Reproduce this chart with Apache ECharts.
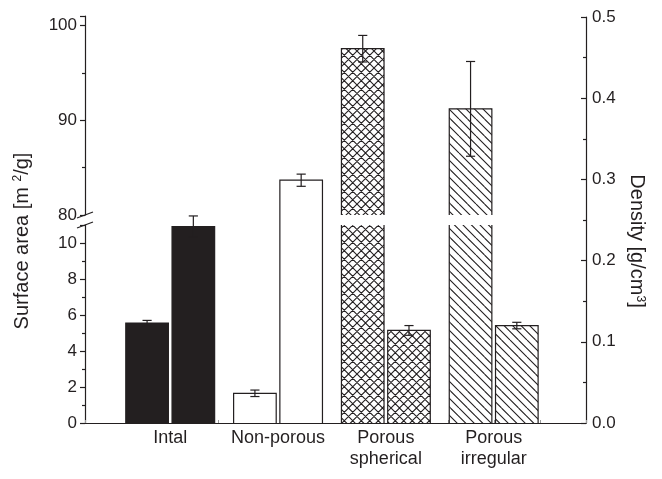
<!DOCTYPE html>
<html>
<head>
<meta charset="utf-8">
<script src="https://cdn.jsdelivr.net/npm/echarts@6/dist/echarts.min.js"></script>
<style>
html,body{margin:0;padding:0;background:#fff;}
#chart{width:662px;height:479px;}
</style>
</head>
<body>
<div id="chart"></div>
<script>
// ---------------- data ----------------
const categories = ['Intal', 'Non-porous', 'Porous\nspherical', 'Porous\nirregular'];
const surfaceArea = [5.55, 1.65, 97.55, 91.2];      // m^2/g (left axis)
const surfaceErr  = [0.15, 0.18, 1.4, 5.0];
const density     = [0.242, 0.299, 0.114, 0.120];   // g/cm^3 (right axis)
const densityErr  = [0.013, 0.0075, 0.006, 0.004];
const lowerTickLabels   = [0, 2, 4, 6, 8, 10];
const upperTickLabels   = [80, 90, 100];
const densityTickLabels = [0, 0.1, 0.2, 0.3, 0.4, 0.5];

// ---------------- styles ----------------
const DARK = '#231f20';
const LW = 1.2;
const FONT = '"Liberation Sans", Arial, Helvetica, sans-serif';
const groupFillKind = ['solid', 'empty', 'cross', 'diag'];
const BAR_FRAC = 0.395, GAP_FRAC = 0.034, CAP_FRAC = 0.085;

// layout (px)
const AXIS_L = 85, AXIS_R = 586, AXIS_B = 423, AXIS_T = 17;
const BAND_L = 116.3, BAND_R = 547.6;
const UPPER_TOP = 16, UPPER_BOTTOM = 215, LOWER_TOP = 225;
const LOWER_MAX = 11, UPPER_MIN = 80, UPPER_MAX = 101;

function makePattern(kind) {
  const s = 8.5;
  const c = document.createElement('canvas');
  c.width = 17; c.height = 17;
  const ctx = c.getContext('2d');
  ctx.fillStyle = '#fff';
  ctx.fillRect(0, 0, 17, 17);
  ctx.strokeStyle = DARK;
  ctx.lineWidth = 1.1;
  ctx.beginPath();
  for (let k = -2; k <= 2; k++) {
    ctx.moveTo(k * s, 0); ctx.lineTo(k * s + 17, 17);
    if (kind === 'cross') { ctx.moveTo(k * s + 17, 0); ctx.lineTo(k * s, 17); }
  }
  ctx.stroke();
  return c;
}
const patterns = { cross: makePattern('cross'), diag: makePattern('diag') };
function fillFor(i) {
  const k = groupFillKind[i];
  if (k === 'solid') return DARK;
  if (k === 'empty') return '#fff';
  return { image: patterns[k], repeat: 'repeat' };
}

function errorBar(api, i, cx, v, e, lo, hi, half) {
  const a = Math.max(v - e, lo), b = Math.min(v + e, hi);
  const ya = api.coord([i, a])[1], yb = api.coord([i, b])[1];
  const st = { stroke: DARK, lineWidth: LW };
  const out = [{ type: 'line', shape: { x1: cx, y1: ya, x2: cx, y2: yb }, style: st }];
  if (v + e <= hi) out.push({ type: 'line', shape: { x1: cx - half, y1: yb, x2: cx + half, y2: yb }, style: st });
  if (v - e >= lo) out.push({ type: 'line', shape: { x1: cx - half, y1: ya, x2: cx + half, y2: ya }, style: st });
  return out;
}

// side: -1 = left bar of the pair, +1 = right bar
function barRenderer(side, segMin, segMax) {
  return function (params, api) {
    const i = api.value(0), v = api.value(1), e = api.value(2);
    if (v <= segMin) return;
    const band = api.size([1, 0])[0];
    const w = band * BAR_FRAC, g = band * GAP_FRAC, half = band * CAP_FRAC / 2;
    const base = api.coord([i, segMin]);
    const cx = base[0] + side * (g / 2 + w / 2);
    const x0 = cx - w / 2, x1 = cx + w / 2;
    const yBase = base[1];
    const clippedTop = v > segMax;
    const yTop = api.coord([i, Math.min(v, segMax)])[1];
    const children = [{
      type: 'rect',
      shape: { x: x0, y: yTop, width: w, height: yBase - yTop },
      style: { fill: fillFor(i) }
    }];
    if (!clippedTop) {
      children.push({ type: 'polyline', shape: { points: [[x0, yBase], [x0, yTop], [x1, yTop], [x1, yBase]] },
        style: { stroke: DARK, lineWidth: LW, fill: null } });
      children.push.apply(children, errorBar(api, i, cx, v, e, segMin, segMax, half));
    } else {
      children.push({ type: 'line', shape: { x1: x0, y1: yBase, x2: x0, y2: yTop }, style: { stroke: DARK, lineWidth: LW } });
      children.push({ type: 'line', shape: { x1: x1, y1: yBase, x2: x1, y2: yTop }, style: { stroke: DARK, lineWidth: LW } });
    }
    return { type: 'group', children: children };
  };
}

const surfaceData = categories.map((c, i) => [i, surfaceArea[i], surfaceErr[i]]);
const densityData = categories.map((c, i) => [i, density[i], densityErr[i]]);

const bandGrid = { left: BAND_L, right: 662 - BAND_R };
const tickStyle = { color: DARK, width: LW };
const labelBase = { color: DARK, fontSize: 17, fontFamily: FONT };
const supStyle = { fontSize: 12, verticalAlign: 'top', color: DARK, fontFamily: FONT, padding: [0, 0, 8, 0] };

const option = {
  animation: false,
  backgroundColor: '#fff',
  textStyle: { fontFamily: FONT },
  grid: [
    { left: AXIS_L, right: 662 - AXIS_R, top: AXIS_T, bottom: 479 - AXIS_B },
    Object.assign({ top: LOWER_TOP, bottom: 479 - AXIS_B }, bandGrid),
    Object.assign({ top: UPPER_TOP, height: UPPER_BOTTOM - UPPER_TOP }, bandGrid),
    Object.assign({ top: AXIS_T, bottom: 479 - AXIS_B }, bandGrid)
  ],
  xAxis: [
    { gridIndex: 0, type: 'value', inverse: true, min: 0, max: 10.9, interval: 1,
      axisLine: { show: true, lineStyle: tickStyle },
      axisTick: { show: true, inside: true, length: 3, lineStyle: { color: '#9a9a9a', width: 1 } },
      axisLabel: { show: false }, splitLine: { show: false } },
    { gridIndex: 1, type: 'category', data: categories, show: false },
    { gridIndex: 2, type: 'category', data: categories, show: false },
    { gridIndex: 3, type: 'category', data: categories,
      axisLine: { show: false }, axisTick: { show: false },
      axisLabel: { margin: 5, lineHeight: 21, interval: 0, color: DARK, fontSize: 18, fontFamily: FONT } }
  ],
  yAxis: [
    { gridIndex: 0, type: 'value', show: false },
    { gridIndex: 1, type: 'value', position: 'left', offset: BAND_L - AXIS_L,
      min: 0, max: LOWER_MAX, interval: 2,
      axisLine: { show: true, lineStyle: tickStyle },
      axisTick: { show: true, length: 5, lineStyle: tickStyle },
      minorTick: { show: true, splitNumber: 2, length: 3, lineStyle: tickStyle },
      axisLabel: Object.assign({ customValues: lowerTickLabels, margin: 8 }, labelBase),
      splitLine: { show: false }, minorSplitLine: { show: false } },
    { gridIndex: 2, type: 'value', position: 'left', offset: BAND_L - AXIS_L,
      min: UPPER_MIN, max: UPPER_MAX, interval: 10,
      axisLine: { show: true, lineStyle: tickStyle },
      axisTick: { show: true, length: 5, lineStyle: tickStyle },
      minorTick: { show: true, splitNumber: 2, length: 3, lineStyle: tickStyle },
      axisLabel: Object.assign({ customValues: upperTickLabels, margin: 8 }, labelBase),
      splitLine: { show: false }, minorSplitLine: { show: false } },
    { gridIndex: 3, type: 'value', position: 'right', offset: AXIS_R - BAND_R,
      min: 0, max: 0.5, interval: 0.1,
      axisLine: { show: true, lineStyle: tickStyle },
      axisTick: { show: true, inside: true, length: 5, lineStyle: tickStyle },
      minorTick: { show: true, splitNumber: 2, length: 3, lineStyle: tickStyle },
      axisLabel: Object.assign({ customValues: densityTickLabels, margin: 6,
        formatter: v => Number(v).toFixed(1) }, labelBase),
      splitLine: { show: false }, minorSplitLine: { show: false },
      name: 'Density [g/cm{sup|3}]', nameLocation: 'middle', nameRotate: -90, nameGap: 36,
      nameTextStyle: { color: DARK, fontSize: 20, fontFamily: FONT, padding: [0, 0, 0, 42],
        rich: { sup: supStyle } } },
    { gridIndex: 3, type: 'value', position: 'left', offset: BAND_L - AXIS_L, min: 0, max: 1,
      axisLine: { show: false }, axisTick: { show: false }, axisLabel: { show: false },
      splitLine: { show: false },
      name: 'Surface area [m {sup|2}/g]', nameLocation: 'middle', nameRotate: 90, nameGap: 53,
      nameTextStyle: { color: DARK, fontSize: 20, fontFamily: FONT, padding: [0, 42, 0, 0],
        rich: { sup: supStyle } } }
  ],
  series: [
    { type: 'custom', name: 'Surface area (lower)', xAxisIndex: 1, yAxisIndex: 1,
      encode: { x: 0, y: 1 }, data: surfaceData, renderItem: barRenderer(-1, 0, LOWER_MAX) },
    { type: 'custom', name: 'Surface area (upper)', xAxisIndex: 2, yAxisIndex: 2,
      encode: { x: 0, y: 1 }, data: surfaceData, renderItem: barRenderer(-1, UPPER_MIN, UPPER_MAX) },
    { type: 'custom', name: 'Density', xAxisIndex: 3, yAxisIndex: 3,
      encode: { x: 0, y: 1 }, data: densityData, renderItem: barRenderer(1, 0, 0.5) }
  ],
  graphic: [
    { type: 'line', shape: { x1: AXIS_L - 8, y1: UPPER_BOTTOM + 3, x2: AXIS_L + 8, y2: UPPER_BOTTOM - 3 },
      style: { stroke: DARK, lineWidth: LW }, z: 100 },
    { type: 'line', shape: { x1: AXIS_L - 8, y1: LOWER_TOP + 3, x2: AXIS_L + 8, y2: LOWER_TOP - 3 },
      style: { stroke: DARK, lineWidth: LW }, z: 100 }
  ]
};

const chart = echarts.init(document.getElementById('chart'), null, { renderer: 'canvas' });
chart.setOption(option);
</script>
</body>
</html>
